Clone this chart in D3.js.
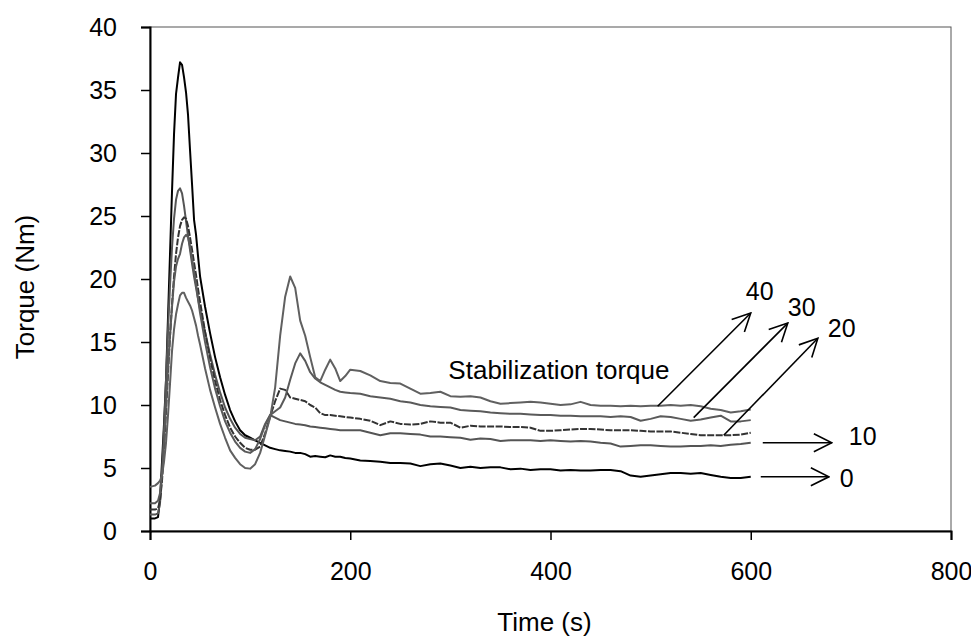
<!DOCTYPE html>
<html>
<head>
<meta charset="utf-8">
<script src="https://cdn.jsdelivr.net/npm/d3@7"></script>
<style>
  body { margin: 0; background: #fff; }
  text { font-family: "Liberation Sans", Arial, sans-serif; fill: #000; }
</style>
</head>
<body>
<div id="chart"></div>
<script>
const width = 971;
const height = 641;
const margin = { top: 27, right: 20, bottom: 110, left: 150 };

// time grid (s)
const times = [0, 5, 8,
  10, 12, 14, 16, 18, 20, 22, 24, 26, 28, 30, 32, 34, 36, 38, 40, 42, 44, 46, 48, 50,
  55, 60, 65, 70, 75, 80, 85, 90, 95, 100,
  105, 110, 115, 120, 125, 130, 135, 140, 145, 150,
  155, 160, 165, 170, 175, 180, 185, 190, 195, 200,
  210, 220, 230, 240, 250, 260, 270, 280, 290, 300,
  310, 320, 330, 340, 350, 360, 370, 380, 390, 400,
  410, 420, 430, 440, 450, 460, 470, 480, 490, 500,
  510, 520, 530, 540, 550, 560, 570, 580, 590, 600];

// torque (Nm) for each loading
const torque0 = [1.0, 1.0, 1.1,
  2.5, 5.5, 8.5, 12, 17, 22, 27, 31.5, 34.7, 36, 37.2, 37.0, 36, 34.8, 33, 30.2, 27.5, 24.7, 23.5, 21.8, 20.2,
  17.8, 15.7, 13.8, 12.2, 10.8, 9.6, 8.7, 8.0, 7.6, 7.4,
  7.2, 7.0, 6.8, 6.6, 6.5, 6.4, 6.35, 6.3, 6.2, 6.2,
  6.1, 5.9, 5.95, 5.9, 5.85, 6.0, 5.9, 5.9, 5.8, 5.75,
  5.6, 5.55, 5.5, 5.4, 5.4, 5.35, 5.15, 5.3, 5.35, 5.2,
  5.0, 5.1, 5.0, 5.05, 5.05, 4.9, 4.95, 4.85, 4.9, 4.9,
  4.8, 4.85, 4.8, 4.8, 4.85, 4.85, 4.75, 4.4, 4.3, 4.4,
  4.5, 4.6, 4.6, 4.55, 4.6, 4.45, 4.3, 4.2, 4.2, 4.3];

const torque10 = [1.3, 1.3, 1.4,
  2.2, 4.5, 8.0, 12.0, 16.0, 19.5, 22.5, 24.8, 26.3, 27.0, 27.2, 26.8, 25.8, 24.6, 23.4, 22.3, 21.2, 20.2, 19.3, 18.4, 17.6,
  15.8, 14.0, 12.4, 11.0, 9.8, 8.9, 8.2, 7.7, 7.4, 7.3,
  7.2, 7.5, 8.5, 9.2, 9.0, 8.8, 8.7, 8.6, 8.5, 8.45,
  8.4, 8.3, 8.25, 8.2, 8.15, 8.1, 8.05, 8.0, 8.0, 8.0,
  8.0, 7.8, 7.6, 7.75, 7.75, 7.7, 7.65, 7.5, 7.5, 7.45,
  7.4, 7.25, 7.35, 7.3, 7.15, 7.2, 7.2, 7.2, 7.15, 7.2,
  7.15, 7.1, 7.15, 7.1, 7.0, 6.95, 6.7, 6.75, 6.8, 6.8,
  6.75, 6.7, 6.7, 6.75, 6.75, 6.8, 6.75, 6.85, 6.9, 7.0];

const torque20 = [1.7, 1.7, 1.8,
  2.4, 4.0, 6.5, 9.5, 12.5, 15.5, 18.0, 20.2, 22.0, 23.3, 24.2, 24.7, 24.9, 24.8, 24.2, 23.3, 22.3, 21.3, 20.3, 19.2, 18.2,
  15.8, 13.7, 11.9, 10.4, 9.2, 8.2, 7.5, 7.0, 6.6, 6.45,
  6.45, 6.7, 7.75, 9.1, 10.3, 11.3, 11.2, 10.6, 10.5, 10.4,
  10.3, 10.0, 9.8, 9.35, 9.2, 9.2, 9.15, 9.1, 9.05, 9.0,
  8.9, 8.75, 8.4, 8.7, 8.5, 8.45, 8.5, 8.7, 8.6, 8.6,
  8.2, 8.35, 8.3, 8.3, 8.3, 8.25, 8.25, 8.2, 7.95, 7.95,
  8.0, 8.05, 8.1, 8.1, 8.05, 8.0, 8.0, 8.0, 7.95, 7.9,
  7.9, 7.9, 7.8, 7.7, 7.6, 7.6, 7.6, 7.6, 7.65, 7.8];

const torque30 = [2.2, 2.2, 2.4,
  3.0, 4.5, 7.0, 10.0, 13.0, 15.5, 17.8, 19.8, 21.0, 21.6, 22.0, 22.8, 23.3, 23.5, 23.3, 22.6, 21.6, 20.6, 19.6, 18.4, 17.3,
  15.0, 13.0, 11.3, 9.9, 8.7, 7.8, 7.1, 6.6, 6.3, 6.2,
  6.5, 7.3, 8.4, 9.2, 9.5, 9.8, 10.6, 12.0, 13.3, 14.1,
  13.5, 12.6, 12.1, 11.8, 11.6, 11.4, 11.2, 11.05, 11.0, 10.95,
  10.9, 10.7, 10.6, 10.5, 10.3, 10.2, 10.0, 9.9, 9.85, 9.8,
  9.6, 9.55, 9.5, 9.4, 9.35, 9.3, 9.3, 9.25, 9.2, 9.2,
  9.15, 9.15, 9.1, 9.1, 9.1, 9.05, 9.1, 9.05, 8.75, 8.9,
  9.1, 9.05, 8.9, 8.75, 8.85, 9.0, 9.15, 8.7, 8.7, 8.8];

const torque40 = [3.5, 3.6, 3.8,
  4.0, 4.4, 5.5, 7.0, 9.2, 11.7, 14.3, 16.0, 17.2, 18.0, 18.7, 18.9, 18.9, 18.5, 18.2, 17.9, 17.5, 16.9, 16.3, 15.5, 14.8,
  12.9, 11.2, 9.8, 8.5, 7.4, 6.4, 5.8, 5.3, 5.0, 4.95,
  5.3, 6.2, 7.6, 9.0, 11.4, 15.5, 18.6, 20.2, 19.3, 16.7,
  15.5, 13.8, 12.2, 11.9, 12.8, 13.6, 12.9, 11.9, 12.3, 12.8,
  12.7, 12.35, 11.9, 11.75, 11.7, 11.3, 10.9, 10.95, 11.05, 10.7,
  10.65, 10.7, 10.6, 10.3, 10.1, 10.15, 10.2, 10.25, 10.2, 10.1,
  10.0, 10.05, 10.25, 10.0, 9.95, 9.95, 9.9, 9.95, 9.9, 9.95,
  9.95, 10.0, 9.95, 10.0, 9.9, 9.7, 9.6, 9.4, 9.5, 9.65];

const seriesNames = ["0", "10", "20", "30", "40"];
const seriesValues = [torque0, torque10, torque20, torque30, torque40];
const seriesColors = ["#000000", "#555555", "#333333", "#5a5a5a", "#606060"];
const seriesDash = [null, null, "7,1.5", null, null];

const xTicks = [0, 200, 400, 600, 800];
const yTicks = [0, 5, 10, 15, 20, 25, 30, 35, 40];

// loading labels: arrow from curve (t0,v0) to (t1,v1), label at (lt,lv)
const arrowLabels = [
  { name: "40", t0: 507, v0: 9.9, t1: 600, v1: 17.3, lt: 595, lv: 18.3 },
  { name: "30", t0: 543, v0: 9.0, t1: 637, v1: 16.5, lt: 637, lv: 17.1 },
  { name: "20", t0: 573, v0: 7.6, t1: 667, v1: 15.3, lt: 677, lv: 15.4 },
  { name: "10", t0: 612, v0: 7.0, t1: 681, v1: 7.0, lt: 698, lv: 6.8 },
  { name: "0", t0: 610, v0: 4.3, t1: 678, v1: 4.3, lt: 689, lv: 3.5 }
];
const noteText = "Stabilization torque";
const notePos = { t: 298, v: 12.1 };

const svg = d3.select("#chart")
  .append("svg")
    .attr("width", width)
    .attr("height", height);

const xScale = d3.scaleLinear()
  .domain([0, 800])
  .range([margin.left, width - margin.right]);

const yScale = d3.scaleLinear()
  .domain([0, 40])
  .range([height - margin.bottom, margin.top]);

svg.append("defs")
  .append("marker")
    .attr("id", "head")
    .attr("viewBox", "0 0 20 20")
    .attr("refX", 19)
    .attr("refY", 10)
    .attr("markerWidth", 20)
    .attr("markerHeight", 20)
    .attr("markerUnits", "userSpaceOnUse")
    .attr("orient", "auto")
  .append("path")
    .attr("d", "M1,1 L19,10 L1,19")
    .attr("fill", "none")
    .attr("stroke", "#000")
    .attr("stroke-width", 1.6);

// plot area border
svg.append("rect")
  .attr("x", xScale(0))
  .attr("y", yScale(40))
  .attr("width", xScale(800) - xScale(0))
  .attr("height", yScale(0) - yScale(40))
  .attr("fill", "none")
  .attr("stroke", "#555")
  .attr("stroke-width", 1);

// axes
const xAxis = svg.append("g")
  .attr("transform", `translate(0, ${yScale(0)})`)
  .call(d3.axisBottom(xScale).tickValues(xTicks).tickSize(9).tickPadding(22));

const yAxis = svg.append("g")
  .attr("transform", `translate(${xScale(0)}, 0)`)
  .call(d3.axisLeft(yScale).tickValues(yTicks).tickSize(9).tickPadding(24));

[xAxis, yAxis].forEach(ax => {
  ax.select(".domain").attr("stroke", "#000").attr("stroke-width", 2);
  ax.selectAll(".tick line").attr("stroke", "#000").attr("stroke-width", 1.5);
  ax.selectAll(".tick text")
    .style("font-family", '"Liberation Sans", Arial, sans-serif')
    .style("font-size", "25px")
    .attr("fill", "#000");
});

// curves
const lineGen = d3.line()
  .x((d, i) => xScale(times[i]))
  .y(d => yScale(d));

svg.append("g")
  .selectAll("path")
  .data(seriesValues)
  .join("path")
    .attr("d", lineGen)
    .attr("fill", "none")
    .attr("stroke", (d, i) => seriesColors[i])
    .attr("stroke-width", 2)
    .attr("stroke-dasharray", (d, i) => seriesDash[i])
    .attr("stroke-linejoin", "round");

// arrows to loading labels
svg.append("g")
  .selectAll("line")
  .data(arrowLabels)
  .join("line")
    .attr("x1", d => xScale(d.t0))
    .attr("y1", d => yScale(d.v0))
    .attr("x2", d => xScale(d.t1))
    .attr("y2", d => yScale(d.v1))
    .attr("stroke", "#000")
    .attr("stroke-width", 1.6)
    .attr("marker-end", "url(#head)");

svg.append("g")
  .selectAll("text")
  .data(arrowLabels)
  .join("text")
    .text(d => d.name)
    .attr("x", d => xScale(d.lt))
    .attr("y", d => yScale(d.lv))
    .style("font-size", "25px");

svg.append("text")
  .text(noteText)
  .attr("x", xScale(notePos.t))
  .attr("y", yScale(notePos.v))
  .style("font-size", "26px");

// axis titles
svg.append("text")
  .text("Time (s)")
  .attr("x", (xScale(0) + xScale(800)) / 2 - 6)
  .attr("y", 631)
  .attr("text-anchor", "middle")
  .style("font-size", "26px");

svg.append("text")
  .text("Torque (Nm)")
  .attr("transform", `translate(34, ${(yScale(0) + yScale(40)) / 2 + 8}) rotate(-90)`)
  .attr("text-anchor", "middle")
  .style("font-size", "26px");
</script>
</body>
</html>
